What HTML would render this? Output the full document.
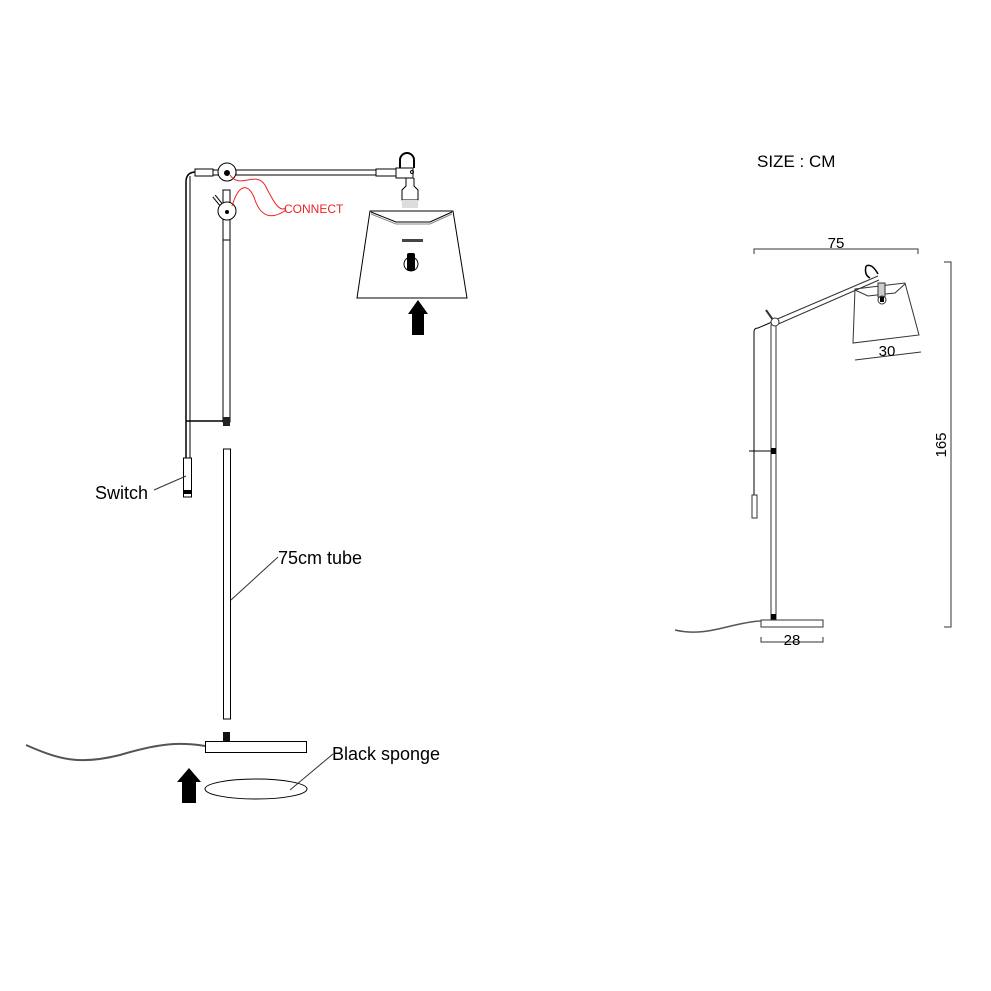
<!DOCTYPE html>
<html><head><meta charset="utf-8"><style>
html,body{margin:0;padding:0;background:#fff}
svg{display:block}
text{font-family:"Liberation Sans",Arial,sans-serif}
</style></head><body>
<svg width="991" height="991" viewBox="0 0 991 991" xmlns="http://www.w3.org/2000/svg">
<g fill="none" stroke="#000" stroke-width="1">
<path d="M196,172 Q186,172 186,182 L186,458" stroke-width="1.5"/>
<path d="M190,176 L190,458"/>
<rect x="183.5" y="458" width="8" height="39" fill="#fff"/>
<rect x="184" y="490" width="7" height="4" fill="#000" stroke="none"/>
<rect x="195" y="169" width="18" height="7" fill="#fff"/>
<rect x="213" y="170" width="6" height="5" fill="#fff"/>
<rect x="236" y="170" width="140" height="5" fill="#fff"/>
<rect x="376" y="169" width="20" height="7" fill="#fff"/>
<rect x="396" y="168" width="17" height="10" fill="#fff"/>
<circle cx="412" cy="172" r="1.5"/>
<path d="M400,168 L400,160 A7,7 0 0 1 414,160 L414,168" stroke-width="2"/>
<circle cx="227" cy="172" r="9" fill="#fff"/>
<circle cx="227" cy="173" r="2.5" fill="#000"/>
<path d="M406,178 L406,186 L402,190 L402,200 L418,200 L418,190 L414,186 L414,178"/>
<rect x="402" y="200" width="16" height="8" fill="#ddd" stroke="none"/>
<path d="M370,211 L453,211 L467,298 L357,298 Z"/>
<path d="M371,212 L396,222 L430,222 L452,212"/>
<path d="M371,214 L396,224 L430,224 L452,214" stroke="#888"/>
<rect x="402" y="239" width="21" height="3" fill="#444" stroke="none"/>
<circle cx="411" cy="264" r="7"/>
<rect x="407" y="253" width="8" height="18" rx="2" fill="#000" stroke="none"/>
<rect x="223" y="190" width="7" height="232" fill="#fff"/>
<line x1="223" y1="240" x2="230" y2="240"/>
<line x1="214" y1="196" x2="227" y2="212" stroke-width="4"/>
<line x1="214" y1="196" x2="227" y2="212" stroke="#fff" stroke-width="2"/>
<circle cx="227" cy="211" r="9" fill="#fff"/>
<circle cx="227" cy="212" r="1.5" fill="#000"/>
<line x1="186" y1="421" x2="230" y2="421" stroke-width="1.5"/>
<rect x="223" y="417" width="7" height="9" fill="#222" stroke="none"/>
<path d="M230,175 C240,190 255,170 265,185 C275,205 280,212 286,208" stroke="#e22"/>
<path d="M232,206 C240,180 250,185 255,200 C262,220 275,218 286,210" stroke="#e22"/>
<path d="M412,335 L412,314 L408,314 L418,300 L428,314 L424,314 L424,335 Z" fill="#000" stroke="none"/>
<rect x="223.5" y="449" width="7" height="270" fill="#fff"/>
<rect x="223" y="732" width="7" height="9" fill="#111" stroke="none"/>
<rect x="205.5" y="741.5" width="101" height="11" fill="#fff"/>
<path d="M26,745 C60,760 80,765 120,755 C160,743 180,742 205,746" stroke="#555" stroke-width="2"/>
<path d="M182,803 L182,782 L177,782 L189,768 L201,782 L196,782 L196,803 Z" fill="#000" stroke="none"/>
<ellipse cx="256" cy="789" rx="51" ry="10"/>
<line x1="154" y1="490" x2="186" y2="476" stroke="#333"/>
<line x1="278" y1="557" x2="231" y2="600" stroke="#333"/>
<line x1="333" y1="754" x2="290" y2="790" stroke="#333"/>
</g>
<text x="284" y="213" font-size="12" fill="#e22">CONNECT</text>
<text x="95" y="499" font-size="18" fill="#000">Switch</text>
<text x="278" y="564" font-size="18" fill="#000">75cm tube</text>
<text x="332" y="760" font-size="18" fill="#000">Black sponge</text>
<text x="757" y="167" font-size="17" fill="#000">SIZE : CM</text>
<g fill="none" stroke="#333" stroke-width="1">
<path d="M754,254 L754,249 L918,249 L918,254"/>
<path d="M944,262 L951,262 L951,627 L944,627"/>
<path d="M761,637 L761,642 L823,642 L823,637"/>
<line x1="855" y1="360" x2="921" y2="352"/>
<path d="M754,510 L754,332 Q754,328 758,328 L772,322" stroke="#000"/>
<rect x="752" y="495" width="5" height="23" fill="#fff"/>
<line x1="749" y1="451" x2="776" y2="451" stroke="#000"/>
<rect x="771" y="325" width="5" height="295" fill="#fff"/>
<rect x="771" y="448" width="5" height="6" fill="#000" stroke="none"/>
<rect x="771" y="614" width="5" height="6" fill="#000" stroke="none"/>
<path d="M775,320 L878,276 M776,325 L879,280"/>
<line x1="766" y1="310" x2="773" y2="320" stroke-width="2"/>
<circle cx="775" cy="322" r="4" fill="#fff"/>
<path d="M866,266 Q864,275 870,278 M866,266 Q872,263 878,274" stroke="#000" stroke-width="1.5"/>
<path d="M855,289 L905,283 L919,335 L853,343 Z"/>
<path d="M855,290 L868,296 L895,293 L905,284"/>
<rect x="878" y="283" width="7" height="14" fill="#ccc"/>
<circle cx="882" cy="300" r="4"/>
<rect x="880" y="297" width="4" height="5" fill="#000" stroke="none"/>
<rect x="761" y="620" width="62" height="7" fill="#fff"/>
<path d="M675,630 C700,636 720,628 740,624 C750,622 755,621 761,621" stroke="#555" stroke-width="1.5"/>
</g>
<text x="836" y="248" font-size="15" text-anchor="middle">75</text>
<text x="887" y="356" font-size="15" text-anchor="middle">30</text>
<text x="792" y="645" font-size="15" text-anchor="middle">28</text>
<text x="946" y="445" font-size="15" text-anchor="middle" transform="rotate(-90 946 445)">165</text>
</svg>
</body></html>
